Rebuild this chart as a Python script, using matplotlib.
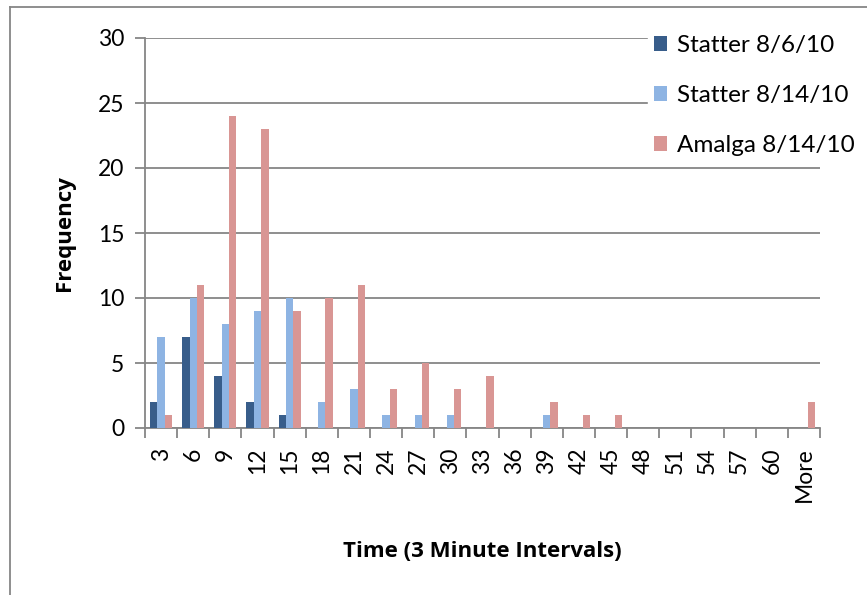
import numpy as np
import matplotlib.pyplot as plt
from matplotlib.lines import Line2D

# Data
categories = ['3', '6', '9', '12', '15', '18', '21', '24', '27', '30', '33',
              '36', '39', '42', '45', '48', '51', '54', '57', '60', 'More']
statter_0806 = [2, 7, 4, 2, 1, 0, 0, 0, 0, 0, 0, 0, 0, 0, 0, 0, 0, 0, 0, 0, 0]
statter_0814 = [7, 10, 8, 9, 10, 2, 3, 1, 1, 1, 0, 0, 1, 0, 0, 0, 0, 0, 0, 0, 0]
amalga_0814 = [1, 11, 24, 23, 9, 10, 11, 3, 5, 3, 4, 0, 2, 1, 1, 0, 0, 0, 0, 0, 2]

series = [
    ("Statter 8/6/10", statter_0806, "#385D8A"),
    ("Statter 8/14/10", statter_0814, "#8EB4E3"),
    ("Amalga 8/14/10", amalga_0814, "#D99694"),
]

plt.rcParams['font.family'] = ['Lato', 'DejaVu Sans']
grey = "#868686"

fig = plt.figure(figsize=(8.67, 5.95), dpi=100)
ax = fig.add_axes([145/867, 1 - 428/595, 675/867, 390/595])

x = np.arange(len(categories))
w = 0.23
for i, (name, vals, col) in enumerate(series):
    ax.bar(x + (i - 1) * w, vals, width=w, color=col, label=name, zorder=3)

ax.set_xlim(-0.5, len(categories) - 0.5)
ax.set_ylim(0, 30)
ax.set_yticks(range(0, 31, 5))
ax.yaxis.grid(True, color=grey, linewidth=1.3, zorder=0)

ax.set_xticks(x)
ax.set_xticklabels(categories, rotation=90, fontsize=16.5)
ax.set_xticks(np.arange(-0.5, len(categories)), minor=True)
ax.tick_params(axis='x', which='major', length=0, pad=14)
ax.tick_params(axis='x', which='minor', length=7, width=1.3, color=grey)
ax.tick_params(axis='y', length=7, width=1.3, color=grey, labelsize=16.5, pad=8)

for s in ['top', 'right']:
    ax.spines[s].set_visible(False)
for s in ['left', 'bottom']:
    ax.spines[s].set_color(grey)
    ax.spines[s].set_linewidth(1.3)

ax.set_ylabel('Frequency', fontsize=16, fontweight='bold', family='Open Sans', labelpad=16)
ax.set_xlabel('Time (3 Minute Intervals)', fontsize=16, fontweight='bold', family='Open Sans', labelpad=28)

leg = ax.legend(loc='upper left', bbox_to_anchor=(648/867, 1 - 29/595),
                bbox_transform=fig.transFigure, frameon=True, fontsize=17.5,
                handlelength=0.55, handleheight=0.55, handletextpad=0.4,
                labelspacing=1.2, borderaxespad=0, borderpad=0.25)
leg.get_frame().set_facecolor('white')
leg.get_frame().set_edgecolor('white')
leg.get_frame().set_alpha(1)

# outer chart border (top and left visible)
fig.add_artist(Line2D([10/867, 10/867], [0, 1 - 7/595], transform=fig.transFigure, color=grey, linewidth=1.3))
fig.add_artist(Line2D([10/867, 1], [1 - 7/595, 1 - 7/595], transform=fig.transFigure, color=grey, linewidth=1.3))

fig.savefig('out.png', dpi=100)
